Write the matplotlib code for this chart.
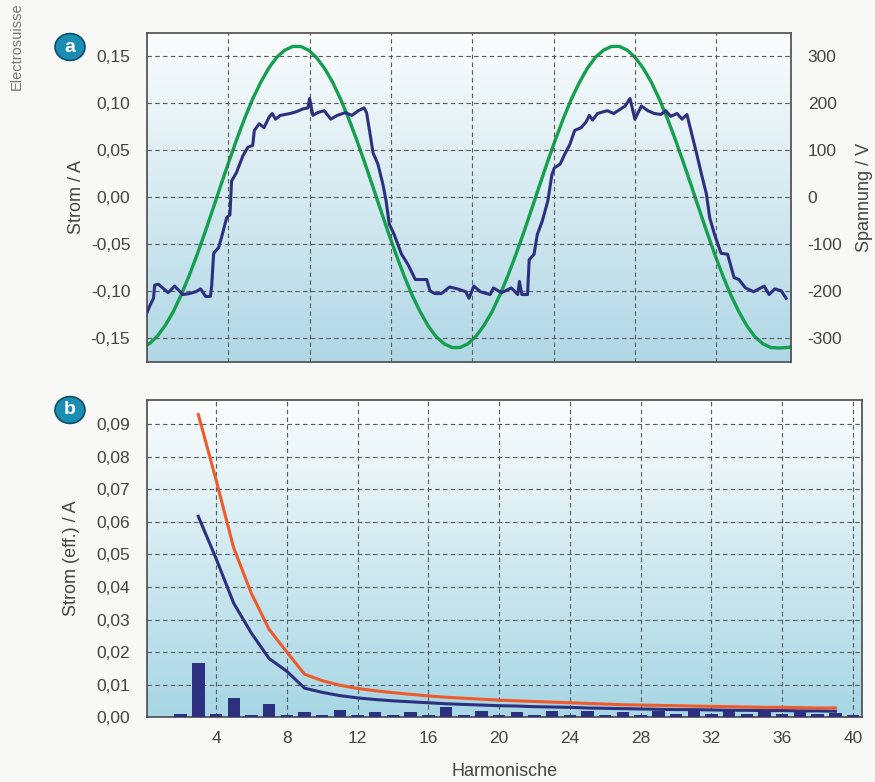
import numpy as np
import matplotlib.pyplot as plt
from matplotlib.colors import LinearSegmentedColormap
from matplotlib.patches import Circle
from matplotlib.ticker import FuncFormatter

plt.rcParams['font.family'] = ['Liberation Sans', 'DejaVu Sans']

# ---- Panel a: current and voltage vs time (ms) ----
# voltage samples every 0.49 ms, first sample at -0.35 ms
voltHalf = [-321, -313, -297, -274, -245, -209, -168, -123, -75, -25,
            26, 76, 124, 169, 210, 245, 275, 298, 313, 321]
voltage = voltHalf + [-v for v in voltHalf] + voltHalf + [-v for v in voltHalf] + [-322, -321, -319]
voltTime = np.arange(len(voltage)) * 0.49 - 0.35

# current trace (time ms, current A)
curTime = [0.0, 0.2, 0.4, 0.47, 0.7, 0.9, 1.3, 1.7, 2.2, 2.6, 3.0, 3.3, 3.6, 3.9, 3.98,
           4.1, 4.4, 4.6, 4.9, 5.1, 5.2, 5.5, 5.9, 6.2, 6.5, 6.6, 6.9, 7.2, 7.5, 7.7,
           7.9, 8.2, 8.8, 9.2, 9.6, 9.9, 10.0, 10.2, 10.5, 10.9, 11.3, 11.7, 12.2, 12.6,
           13.0, 13.35, 13.5, 13.7, 13.9, 14.2, 14.5, 14.7, 14.9, 15.2, 15.65, 16.05,
           16.5, 17.2, 17.4, 17.7, 18.1, 18.6, 19.1, 19.6, 19.8, 20.1, 20.5, 21.1, 21.3,
           21.8, 22.4, 22.8, 22.9, 23.05, 23.4, 23.5, 23.8, 24.0, 24.3, 24.65, 24.9,
           25.05, 25.4, 25.7, 26.0, 26.3, 26.7, 27.0, 27.2, 27.4, 27.7, 28.3, 28.7,
           29.05, 29.4, 29.7, 30.0, 30.4, 30.8, 31.2, 31.6, 31.9, 32.2, 32.6, 32.9,
           33.2, 33.5, 33.8, 34.1, 34.4, 34.6, 34.9, 35.3, 35.7, 36.1, 36.4, 36.8,
           37.3, 37.95, 38.25, 38.6, 39.0, 39.3]
current = [-0.123, -0.115, -0.108, -0.094, -0.093, -0.096, -0.102, -0.095, -0.104, -0.103,
           -0.101, -0.098, -0.106, -0.106, -0.094, -0.060, -0.054, -0.042, -0.022, -0.019,
           0.017, 0.026, 0.044, 0.053, 0.055, 0.071, 0.078, 0.074, 0.085, 0.089,
           0.083, 0.087, 0.089, 0.091, 0.094, 0.095, 0.105, 0.087, 0.090, 0.092, 0.083,
           0.087, 0.090, 0.087, 0.092, 0.095, 0.090, 0.069, 0.047, 0.035, 0.014, -0.004,
           -0.029, -0.040, -0.061, -0.072, -0.088, -0.088, -0.100, -0.103, -0.103,
           -0.096, -0.098, -0.101, -0.108, -0.095, -0.101, -0.104, -0.097, -0.102,
           -0.097, -0.104, -0.090, -0.104, -0.104, -0.067, -0.061, -0.040, -0.026,
           -0.004, 0.024, 0.031, 0.035, 0.046, 0.056, 0.071, 0.074, 0.080, 0.087,
           0.082, 0.089, 0.092, 0.089, 0.093, 0.097, 0.105, 0.083, 0.097, 0.092,
           0.089, 0.088, 0.092, 0.086, 0.089, 0.083, 0.088, 0.067, 0.046, 0.024,
           0.003, -0.022, -0.040, -0.060, -0.061, -0.086, -0.088, -0.097, -0.101,
           -0.095, -0.104, -0.098, -0.100, -0.108]

# ---- Panel b: harmonics ----
harmonics = list(range(2, 41))
barValues = [0.0010, 0.0165, 0.0010, 0.0058, 0.0006, 0.0040, 0.0006, 0.0016, 0.0006,
             0.0021, 0.0006, 0.0016, 0.0006, 0.0016, 0.0006, 0.0030, 0.0006, 0.0020,
             0.0006, 0.0016, 0.0006, 0.0020, 0.0006, 0.0020, 0.0006, 0.0016, 0.0006,
             0.0020, 0.0008, 0.0022, 0.0008, 0.0022, 0.0008, 0.0020, 0.0008, 0.0016,
             0.0008, 0.0014, 0.0006]
lineHarm = list(range(3, 40))
orangeLine = [0.093, 0.073, 0.052, 0.038, 0.027, 0.020, 0.0132, 0.0112, 0.0098, 0.0088,
              0.0081, 0.0075, 0.0070, 0.0065, 0.0061, 0.0058, 0.0055, 0.0052, 0.0050,
              0.0048, 0.0046, 0.0044, 0.0042, 0.0040, 0.0038, 0.0037, 0.0036, 0.0035,
              0.0034, 0.0033, 0.0032, 0.0031, 0.0030, 0.0030, 0.0029, 0.0028, 0.0028]
navyLine = [0.0617, 0.0488, 0.035, 0.0258, 0.018, 0.0141, 0.0089, 0.0076, 0.0066, 0.0059,
            0.0054, 0.0050, 0.0047, 0.0044, 0.0041, 0.0039, 0.0037, 0.0035, 0.0034,
            0.0032, 0.0031, 0.0030, 0.0028, 0.0027, 0.0026, 0.0025, 0.0024, 0.0023,
            0.0023, 0.0022, 0.0021, 0.0021, 0.0020, 0.0020, 0.0019, 0.0019, 0.0018]

navy = '#2d2f7f'
green = '#14a04f'
orange = '#f05a2a'

comma = FuncFormatter(lambda v, p: f"{v:.2f}".replace('.', ','))

fig = plt.figure(figsize=(8.75, 7.82), dpi=100, facecolor='#f8f8f6')
axA = fig.add_axes([0.168, 0.537, 0.736, 0.421])
axB = fig.add_axes([0.168, 0.083, 0.817, 0.406])

def background(ax, bottomColor):
    cmap = LinearSegmentedColormap.from_list('bg', ['#fbfdfd', bottomColor])
    grad = np.linspace(0, 1, 256).reshape(-1, 1)
    ax.imshow(grad, cmap=cmap, aspect='auto', extent=[0, 1, 0, 1],
              transform=ax.transAxes, zorder=0)

def style(ax):
    for s in ax.spines.values():
        s.set_color('#4a4a4a')
        s.set_linewidth(1.2)
    ax.tick_params(length=0, colors='#444444', labelsize=12.5)
    ax.grid(True, color='#5a5a5a', linestyle=(0, (4, 3)), linewidth=0.8)
    ax.set_axisbelow(True)

# panel a (voltage on twin axis drawn underneath the current)
axV = axA.twinx()
background(axV, '#b0d7e5')
axV.plot(voltTime, voltage, color=green, lw=2.4, zorder=3)
axV.set_ylim(-0.176 * 2000, 0.175 * 2000)
axV.set_yticks(range(-300, 301, 100))
axV.yaxis.set_major_formatter(FuncFormatter(lambda v, p: f"{int(round(v))}"))
axV.tick_params(length=0, colors='#444444', labelsize=12.5, pad=12)
for s in axV.spines.values():
    s.set_visible(False)
axV.set_ylabel('Spannung / V', fontsize=13, color='#444444', labelpad=10)

axA.plot(curTime, current, color=navy, lw=2.2, zorder=4)
axA.set_xlim(0, 39.6)
axA.set_ylim(-0.176, 0.175)
axA.set_xticks(range(5, 40, 5))
axA.set_xticklabels([])
axA.set_yticks([-0.15, -0.10, -0.05, 0.0, 0.05, 0.10, 0.15])
axA.yaxis.set_major_formatter(comma)
style(axA)
axA.tick_params(axis='y', pad=12)
axA.set_ylabel('Strom / A', fontsize=13, color='#444444', labelpad=4)
axA.set_zorder(axV.get_zorder() + 1)
axA.patch.set_visible(False)

# panel b
background(axB, '#a7d6e4')
axB.bar(harmonics, barValues, width=0.7, color=navy, zorder=3)
axB.plot(lineHarm, orangeLine, color=orange, lw=2.2, zorder=5)
axB.plot(lineHarm, navyLine, color=navy, lw=2.2, zorder=4)
axB.set_xlim(0.1, 40.5)
axB.set_ylim(0, 0.0976)
axB.set_xticks(range(4, 41, 4))
axB.set_yticks([i / 100 for i in range(10)])
axB.yaxis.set_major_formatter(comma)
style(axB)
axB.tick_params(axis='y', pad=12)
axB.tick_params(axis='x', pad=10)
axB.set_ylabel('Strom (eff.) / A', fontsize=13, color='#444444', labelpad=12)
axB.set_xlabel('Harmonische', fontsize=13, color='#444444', labelpad=12)

# panel badges
for letter, yPos in [('a', 1 - 47 / 782), ('b', 1 - 410 / 782)]:
    fig.patches.append(Circle((70 / 875, yPos), 15 / 875, transform=fig.transFigure,
                              facecolor='#1b8db3', edgecolor='#0d4f66', lw=1.2))
    fig.text(70 / 875, yPos, letter, ha='center', va='center', color='white',
             fontsize=14, fontweight='bold')

fig.text(17 / 875, 1 - 46 / 782, 'Electrosuisse', rotation=90, ha='center',
         va='center', fontsize=10.5, color='#777777')

fig.savefig('out.png', dpi=100, facecolor=fig.get_facecolor())
